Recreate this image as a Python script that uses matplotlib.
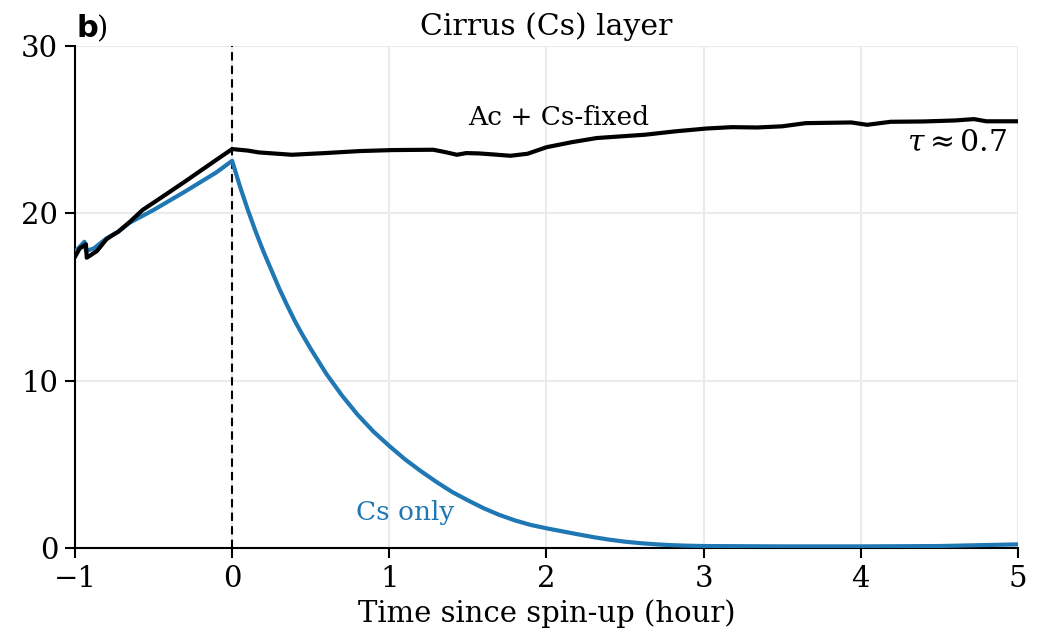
import matplotlib
matplotlib.use("Agg")
import matplotlib.pyplot as plt

plt.rcParams['font.family'] = 'DejaVu Serif'
plt.rcParams['mathtext.fontset'] = 'dejavuserif'

# Ac + Cs-fixed (black)
t_fixed = [-1.0, -0.97, -0.93, -0.925, -0.9, -0.86, -0.8, -0.76, -0.725, -0.65, -0.57,
           -0.45, -0.3, -0.2, -0.1, 0.0,
           0.1, 0.17, 0.38, 0.59, 0.81, 1.02, 1.28, 1.36, 1.43, 1.49, 1.57, 1.66, 1.77,
           1.88, 2.0, 2.16, 2.32, 2.63, 2.82, 3.02, 3.18, 3.34, 3.5, 3.65, 3.94, 4.04,
           4.19, 4.4, 4.6, 4.72, 4.8, 5.0]
v_fixed = [17.4, 17.9, 18.15, 17.35, 17.5, 17.75, 18.45, 18.7, 18.9, 19.5, 20.2,
           20.95, 21.9, 22.55, 23.2, 23.84,
           23.75, 23.64, 23.5, 23.6, 23.72, 23.78, 23.8, 23.65, 23.5, 23.6, 23.58, 23.52, 23.44,
           23.56, 23.95, 24.25, 24.5, 24.7, 24.9, 25.07, 25.15, 25.13, 25.2, 25.39, 25.43, 25.29,
           25.47, 25.49, 25.55, 25.63, 25.5, 25.5]

# Cs only (blue)
t_cs = [-1.0, -0.96, -0.94, -0.93, -0.88, -0.8, -0.725, -0.65, -0.5, -0.3, -0.1, 0.0,
        0.05, 0.1, 0.15, 0.2, 0.25, 0.3, 0.35, 0.4, 0.45, 0.5, 0.6, 0.7, 0.8, 0.9,
        1.0, 1.1, 1.2, 1.3, 1.4, 1.5, 1.6, 1.7, 1.8, 1.9, 2.0, 2.1, 2.2, 2.3, 2.4,
        2.5, 2.6, 2.7, 2.8, 2.9, 3.0, 3.5, 4.0, 4.5, 4.8, 5.0]
v_cs = [17.7, 18.1, 18.3, 17.75, 17.9, 18.5, 18.9, 19.45, 20.2, 21.3, 22.45, 23.14,
        21.6, 20.2, 18.9, 17.7, 16.6, 15.5, 14.5, 13.55, 12.7, 11.9, 10.4, 9.1, 7.95, 6.95,
        6.1, 5.3, 4.6, 3.95, 3.35, 2.85, 2.38, 1.98, 1.65, 1.38, 1.18, 1.0, 0.82, 0.65, 0.5,
        0.38, 0.29, 0.22, 0.17, 0.14, 0.12, 0.1, 0.1, 0.12, 0.18, 0.22]

fig = plt.figure(figsize=(10.5, 6.44), dpi=100)
ax = fig.add_axes([0.0714, 0.149, 0.8981, 0.7796])

ax.grid(True, color='#ebebeb', linewidth=1.5, zorder=0)
ax.axvline(0, color='black', linestyle=(0, (4, 2.5)), linewidth=1.5, zorder=1)
ax.plot(t_cs, v_cs, color='#1f77b4', linewidth=3, zorder=3, solid_joinstyle='round')
ax.plot(t_fixed, v_fixed, color='black', linewidth=3, zorder=4, solid_joinstyle='round')

ax.set_xlim(-1, 5)
ax.set_ylim(0, 30)
ax.set_xticks([-1, 0, 1, 2, 3, 4, 5])
ax.set_yticks([0, 10, 20, 30])
ax.tick_params(labelsize=21, length=7, width=1.5, pad=5)
for s in ['top', 'right']:
    ax.spines[s].set_visible(False)
for s in ['left', 'bottom']:
    ax.spines[s].set_linewidth(1.5)
ax.set_axisbelow(True)

ax.set_xlabel('Time since spin-up (hour)', fontsize=21, labelpad=5)
ax.set_title('Cirrus (Cs) layer', fontsize=21.5, pad=8)

ax.text(2.08, 25.0, 'Ac + Cs-fixed', fontsize=19, ha='center', va='bottom')
ax.text(4.93, 24.2, r'$\tau \approx 0.7$', fontsize=21.5, ha='right', va='center')
ax.text(1.1, 1.4, 'Cs only', fontsize=19, color='#1f77b4', ha='center', va='bottom')

fig.text(0.073, 0.955, 'b', fontsize=22, fontweight='bold', family='DejaVu Sans',
         ha='left', va='center')
fig.text(0.0925, 0.955, ')', fontsize=21, ha='left', va='center')

fig.savefig('out.png', dpi=100)
